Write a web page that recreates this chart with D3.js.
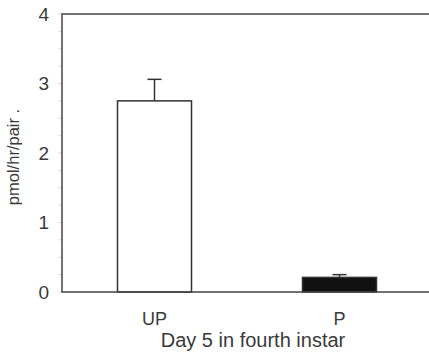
<!DOCTYPE html>
<html>
<head>
<meta charset="utf-8">
<script src="https://cdn.jsdelivr.net/npm/d3@7"></script>
<style>
body { margin:0; background:#fff; }
text { font-family: "Liberation Sans", Arial, sans-serif; fill:#3a3a3a; }
</style>
</head>
<body>
<div id="chart"></div>
<script>
(function(){
var width = 429,
	height = 355,
	margin = {top:14, bottom:63, left:62, right:-3};

var categories = ["UP","P"],
	values = [2.75, 0.21],
	errors = [0.31, 0.04],
	fills = ["#fff","#111"];

var yTicks = [0,1,2,3,4],
	yMinor = d3.range(0,4.01,0.25);

var svg = d3.select("#chart").append("svg")
	.attr("width",width)
	.attr("height",height);

var X = d3.scaleBand().domain(categories)
	.range([margin.left, width-margin.right])
	.paddingInner(0.6).paddingOuter(0.3);
var Y = d3.scaleLinear().domain([0,4]).range([height-margin.bottom, margin.top]);

// faint minor ticks
svg.selectAll(".minor").data(yMinor).enter().append("line")
	.attr("x1",margin.left-4).attr("x2",margin.left)
	.attr("y1",function(d){return Y(d)}).attr("y2",function(d){return Y(d)})
	.attr("stroke","#ddd").attr("stroke-width",1);

// bars
svg.selectAll(".bar").data(values).enter().append("rect")
	.attr("x",function(d,i){return X(categories[i])})
	.attr("y",function(d){return Y(d)})
	.attr("width",X.bandwidth())
	.attr("height",function(d){return Y(0)-Y(d)})
	.attr("fill",function(d,i){return fills[i]})
	.attr("stroke","#333").attr("stroke-width",1.5);

// error bars
var cap = 7;
values.forEach(function(v,i){
	var cx = X(categories[i]) + X.bandwidth()/2;
	svg.append("line").attr("x1",cx).attr("x2",cx)
		.attr("y1",Y(v)).attr("y2",Y(v+errors[i]))
		.attr("stroke","#333").attr("stroke-width",1.5);
	svg.append("line").attr("x1",cx-cap).attr("x2",cx+cap)
		.attr("y1",Y(v+errors[i])).attr("y2",Y(v+errors[i]))
		.attr("stroke","#333").attr("stroke-width",1.5);
});

// frame: left, top, bottom
svg.append("path")
	.attr("d","M"+width+","+Y(4)+"H"+margin.left+"V"+Y(0)+"H"+width)
	.attr("fill","none").attr("stroke","#444").attr("stroke-width",1.5);

// y tick labels
svg.selectAll(".ylab").data(yTicks).enter().append("text")
	.attr("x",49).attr("y",function(d){return Y(d)})
	.attr("dy","0.36em").attr("text-anchor","end")
	.style("font-size","19px")
	.text(function(d){return d});

// x tick labels
svg.selectAll(".xlab").data(categories).enter().append("text")
	.attr("x",function(d){return X(d)+X.bandwidth()/2})
	.attr("y",325).attr("text-anchor","middle")
	.style("font-size","18px")
	.text(function(d){return d});

svg.append("text")
	.attr("x",253).attr("y",347).attr("text-anchor","middle")
	.style("font-size","20px")
	.text("Day 5 in fourth instar");

svg.append("text")
	.attr("transform","translate(19,157) rotate(-90)")
	.attr("text-anchor","middle")
	.style("font-size","16.5px")
	.text("pmol/hr/pair .");
})()
</script>
</body>
</html>
